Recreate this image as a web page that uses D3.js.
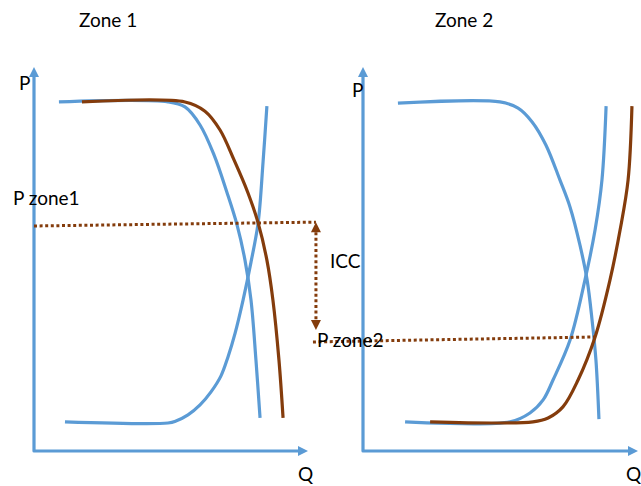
<!DOCTYPE html>
<html><head><meta charset="utf-8">
<script src="https://cdn.jsdelivr.net/npm/d3@7"></script>
<style>body{margin:0;background:#fff}svg{display:block}</style>
</head><body>
<svg id="c" width="641" height="486"></svg>
<script>
// ---- data (Q, P in 0-100 units per panel) ----
const panelTitles = ["Zone 1", "Zone 2"];
const axisNames = ["P", "Q"];
const priceLabels = ["P zone1", "P zone2"];
const gapLabel = "ICC";

const zone1Demand      = [[9.1,90.9],[48.9,90.9],[55.1,89.6],[60.6,84.9],[65.7,77.1],[70.4,67.4],[74.1,58.9],[77.0,49.7],[79.2,39.3],[81.0,23.7],[82.5,8.6]];
const zone1DemandShift = [[17.5,90.9],[55.1,90.9],[62.4,88.5],[67.9,83.6],[73.0,75.8],[78.1,67.2],[81.8,59.4],[85.0,49.7],[87.2,39.3],[89.4,23.7],[90.9,8.6]];
const zone1Supply      = [[11.3,7.6],[48.9,7.3],[51.8,7.8],[56.2,9.4],[60.6,12.0],[64.6,15.4],[68.2,19.5],[70.8,24.5],[73.4,30.7],[76.3,39.3],[79.2,49.2],[81.8,59.4],[83.6,75.3],[85.0,89.8]];

const zone2Demand      = [[12.7,90.6],[49.8,90.9],[56.4,89.3],[61.5,85.7],[66.5,79.7],[71.6,70.6],[75.3,63.5],[78.9,53.6],[81.5,44.5],[83.3,34.1],[84.7,23.7],[85.8,8.3]];
const zone2Supply      = [[15.3,7.6],[53.5,7.6],[60.7,9.9],[65.5,13.3],[69.1,18.5],[75.3,28.9],[80.7,44.5],[84.4,57.6],[86.9,70.6],[88.4,89.8]];
const zone2SupplyShift = [[24.4,7.6],[61.8,7.6],[67.3,8.6],[72.7,11.5],[78.2,18.5],[84.4,29.7],[89.8,44.5],[93.5,57.6],[96.4,70.6],[97.8,89.8]];

const priceZone1 = [[0,58.6],[102.9,59.6]];     // panel 1 units
const priceZone2 = [[-18.2,28.4],[84.4,29.7]];  // panel 2 units
const iccArrow   = [[102.9,59.6],[102.9,31.5]]; // panel 1 units

// ---- styles ----
const BLUE = "#5B9BD5", BROWN = "#843C0C";
const FONT = "Lato, 'Open Sans', sans-serif";

const svg = d3.select("#c");
const y = d3.scaleLinear().domain([0,100]).range([451,67]);
const x1 = d3.scaleLinear().domain([0,100]).range([34,308]);
const x2 = d3.scaleLinear().domain([0,100]).range([363,638]);

function lineGen(x){ return d3.line().x(d=>x(d[0])).y(d=>y(d[1])).curve(d3.curveCatmullRom.alpha(0.5)); }
function straight(x){ return d3.line().x(d=>x(d[0])).y(d=>y(d[1])); }

function tri(g, tipX, tipY, dir, color, len, half){
  let pts;
  if(dir==="up")    pts=[[tipX,tipY],[tipX-half,tipY+len],[tipX+half,tipY+len]];
  if(dir==="down")  pts=[[tipX,tipY],[tipX-half,tipY-len],[tipX+half,tipY-len]];
  if(dir==="right") pts=[[tipX,tipY],[tipX-len,tipY-half],[tipX-len,tipY+half]];
  g.append("polygon").attr("points",pts.map(p=>p.join(",")).join(" ")).attr("fill",color);
}

function drawAxes(x){
  const g = svg.append("g");
  const x0=x(0), y0=y(0), xt=x(100), yt=y(100);
  g.append("path").attr("d",`M${x0},${yt+8}L${x0},${y0}L${xt-8},${y0}`)
    .attr("fill","none").attr("stroke",BLUE).attr("stroke-width",3.2).attr("stroke-linejoin","round");
  tri(g,x0,yt,"up",BLUE,10,5);
  tri(g,xt,y0,"right",BLUE,10,5);
}
drawAxes(x1); drawAxes(x2);

function curve(data,x,color){
  svg.append("path").attr("d",lineGen(x)(data)).attr("fill","none")
    .attr("stroke",color).attr("stroke-width",3.2).attr("stroke-linecap","butt");
}
curve(zone1Demand,x1,BLUE);
curve(zone1Supply,x1,BLUE);
curve(zone1DemandShift,x1,BROWN);
curve(zone2Demand,x2,BLUE);
curve(zone2Supply,x2,BLUE);
curve(zone2SupplyShift,x2,BROWN);

function dotted(d){
  svg.append("path").attr("d",d).attr("fill","none").attr("stroke",BROWN)
    .attr("stroke-width",3).attr("stroke-dasharray","3,2.6");
}
dotted(straight(x1)(priceZone1));
dotted(straight(x2)(priceZone2));
// ICC double arrow
{
  const ax = x1(iccArrow[0][0]), yTop = y(iccArrow[0][1]), yBot = y(iccArrow[1][1]);
  dotted(`M${ax},${yTop+10}L${ax},${yBot-10}`);
  const g = svg.append("g");
  tri(g,ax,yTop,"up",BROWN,10,5);
  tri(g,ax,yBot,"down",BROWN,10,5);
}

// ---- text ----
function txt(s,xp,yp){ svg.append("text").attr("x",xp).attr("y",yp).text(s)
  .attr("font-family",FONT).attr("font-size",19).attr("fill","#000"); }
txt(panelTitles[0],79,27);
txt(panelTitles[1],435,27);
txt(axisNames[0],19,90);
txt(axisNames[0],352,97);
txt(axisNames[1],298,481);
txt(axisNames[1],626,481);
txt(priceLabels[0],13,205);
txt(gapLabel,330,268);
txt(priceLabels[1],317,347);
</script>
</body></html>
